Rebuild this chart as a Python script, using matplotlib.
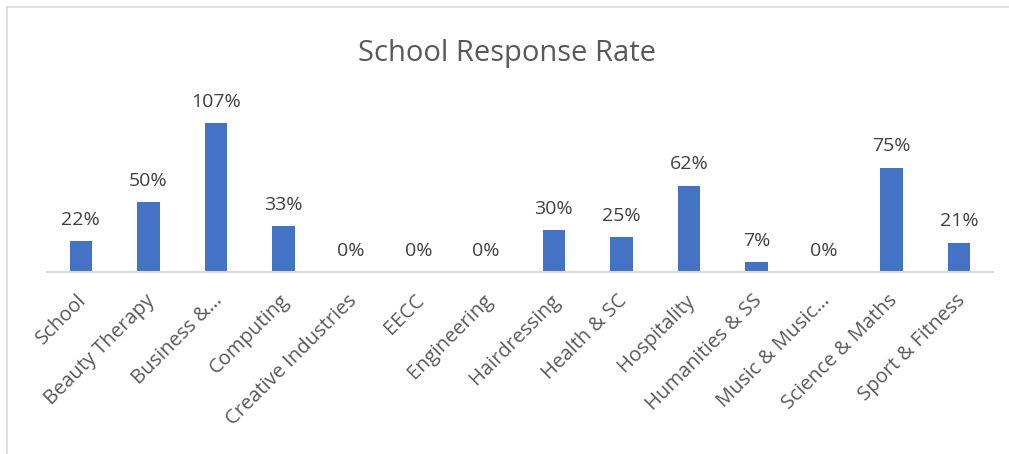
import matplotlib
matplotlib.use("Agg")
import matplotlib.pyplot as plt
from matplotlib.lines import Line2D
from matplotlib.transforms import ScaledTranslation

categories = ["School", "Beauty Therapy", "Business &…", "Computing", "Creative Industries",
              "EECC", "Engineering", "Hairdressing", "Health & SC", "Hospitality",
              "Humanities & SS", "Music & Music…", "Science & Maths", "Sport & Fitness"]
values = [22, 50, 107, 33, 0, 0, 0, 30, 25, 62, 7, 0, 75, 21]

plt.rcParams['font.family'] = ['Open Sans', 'DejaVu Sans']
W, H = 1009, 454
fig = plt.figure(figsize=(W/100, H/100), dpi=100)
ax = fig.add_axes([47/W, 1-272/H, (993-47)/W, (272-105)/H])

x = list(range(len(categories)))
ax.bar(x, values, width=0.33, color="#4472C4")
ax.set_xlim(-0.5, len(categories)-0.5)
ax.set_ylim(0, 120)
for xi, v in zip(x, values):
    ax.annotate(f"{v}%", (xi, v), xytext=(0, 9), textcoords="offset points",
                ha="center", va="bottom", fontsize=14, color="#404040")
ax.set_xticks(x)
ax.set_xticklabels(categories, rotation=45, ha="right", rotation_mode="anchor",
                   fontsize=14.5, color="#595959")
ax.tick_params(axis='x', length=0, pad=12)
shift = ScaledTranslation(-4/100, -2/100, fig.dpi_scale_trans)
for lbl in ax.get_xticklabels():
    lbl.set_transform(lbl.get_transform() + shift)
ax.set_yticks([])
for s in ["top", "right", "left"]:
    ax.spines[s].set_visible(False)
ax.spines["bottom"].set_color("#d9d9d9")
ax.spines["bottom"].set_linewidth(1.5)

fig.text(507/W, 1-54/H, "School Response Rate", ha="center", va="center",
         fontsize=21, color="#595959")

fig.add_artist(Line2D([7/W, 1], [1-7/H, 1-7/H], color="#d9d9d9", lw=1.2, transform=fig.transFigure))
fig.add_artist(Line2D([7/W, 7/W], [0, 1-7/H], color="#d9d9d9", lw=1.2, transform=fig.transFigure))

fig.savefig("out.png", dpi=100)
